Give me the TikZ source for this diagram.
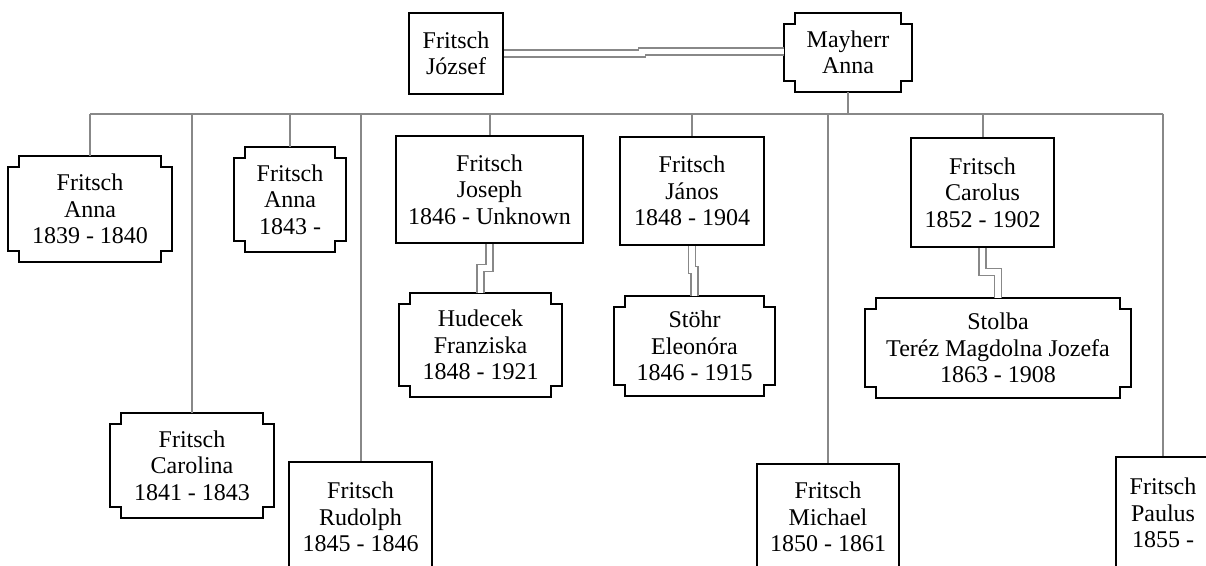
\documentclass[tikz,border=0pt]{standalone}
\usepackage{fontspec}
\setmainfont{Liberation Serif}
\definecolor{lgray}{RGB}{136,136,136}
\tikzset{
  person/.style={inner sep=0pt, align=center, font=\fontsize{24}{26.3}\selectfont, line width=2pt},
  rectbox/.style={person, draw=black},
  nbox/.style={person, draw=none, outer sep=0pt},
  conn/.style={draw=lgray, line width=2pt},
  dbl/.style={draw=lgray, line width=1.7pt, double=white, double distance=5.3pt},
  notchline/.style={draw=black, line width=2pt, line join=miter}
}
\newcommand\notchbox[1]{%
  \draw[notchline] ([xshift=11pt]#1.north west) -- ([xshift=-11pt]#1.north east)
    -- ++(0pt,-11pt) -- ++(11pt,0pt) -- ([yshift=11pt]#1.south east)
    -- ++(-11pt,0pt) -- ++(0pt,-11pt) -- ([xshift=11pt]#1.south west)
    -- ++(0pt,11pt) -- ++(-11pt,0pt) -- ([yshift=-11pt]#1.north west)
    -- ++(11pt,0pt) -- cycle;}
\begin{document}
\begin{tikzpicture}[x=1pt,y=-1pt]
\useasboundingbox (0,0) rectangle (1206,565);
\clip (0,0) rectangle (1206,565);
\fill[white] (0,0) rectangle (1206,565);

% parents
\node[rectbox, minimum width=94pt, minimum height=81pt] (jozsef) at (456,53.5) {Fritsch\\József};
\node[nbox, minimum width=128pt, minimum height=79pt] (mayherr) at (848,52.5) {Mayherr\\Anna};

% children
\node[nbox, minimum width=164pt, minimum height=106pt] (anna39) at (90,209) {Fritsch\\Anna\\1839 - 1840};
\node[nbox, minimum width=164pt, minimum height=105pt] (carolina) at (192,465.5) {Fritsch\\Carolina\\1841 - 1843};
\node[nbox, minimum width=112pt, minimum height=105pt] (anna43) at (290,199.5) {Fritsch\\Anna\\1843 -};
\node[rectbox, minimum width=143pt, minimum height=110pt] (rudolph) at (360.5,517) {Fritsch\\Rudolph\\1845 - 1846};
\node[rectbox, minimum width=187pt, minimum height=107pt] (joseph) at (489.5,189.5) {Fritsch\\Joseph\\1846 - Unknown};
\node[rectbox, minimum width=144pt, minimum height=108pt] (janos) at (692,191) {Fritsch\\János\\1848 - 1904};
\node[rectbox, minimum width=142pt, minimum height=106pt] (michael) at (828,517) {Fritsch\\Michael\\1850 - 1861};
\node[rectbox, minimum width=143pt, minimum height=109pt] (carolus) at (982.5,192.5) {Fritsch\\Carolus\\1852 - 1902};
\node[rectbox, minimum width=94pt, minimum height=112pt] (paulus) at (1163,513) {Fritsch\\Paulus\\1855 -};

% spouses
\node[nbox, minimum width=163pt, minimum height=104pt] (hudecek) at (480.5,345) {Hudecek\\Franziska\\1848 - 1921};
\node[nbox, minimum width=161pt, minimum height=100pt] (stohr) at (694.5,346) {Stöhr\\Eleonóra\\1846 - 1915};
\node[nbox, minimum width=266pt, minimum height=100pt] (stolba) at (998,348) {Stolba\\Teréz Magdolna Jozefa\\1863 - 1908};

\foreach \n in {mayherr,anna39,carolina,anna43,hudecek,stohr,stolba} {\notchbox{\n}}

% bus
\coordinate (bus) at (0,113.5);
\draw[conn] (anna39.north |- bus) -- (paulus.north |- bus);
\draw[conn] (mayherr.south) -- (mayherr.south |- bus);
\foreach \n in {anna39,carolina,anna43,rudolph,joseph,janos,michael,carolus,paulus}
  {\draw[conn] (\n.north |- bus) -- (\n.north);}

% marriages
\draw[dbl] (jozsef.east) -- ++(138,0) |- ([yshift=1pt]mayherr.west);
\draw[dbl] (joseph.south) -- ++(0,24) -| (hudecek.north);
\draw[dbl] (janos.south) -- ++(0,24) -| (stohr.north);
\draw[dbl] (carolus.south) -- ++(0,24) -| (stolba.north);
\end{tikzpicture}
\end{document}
